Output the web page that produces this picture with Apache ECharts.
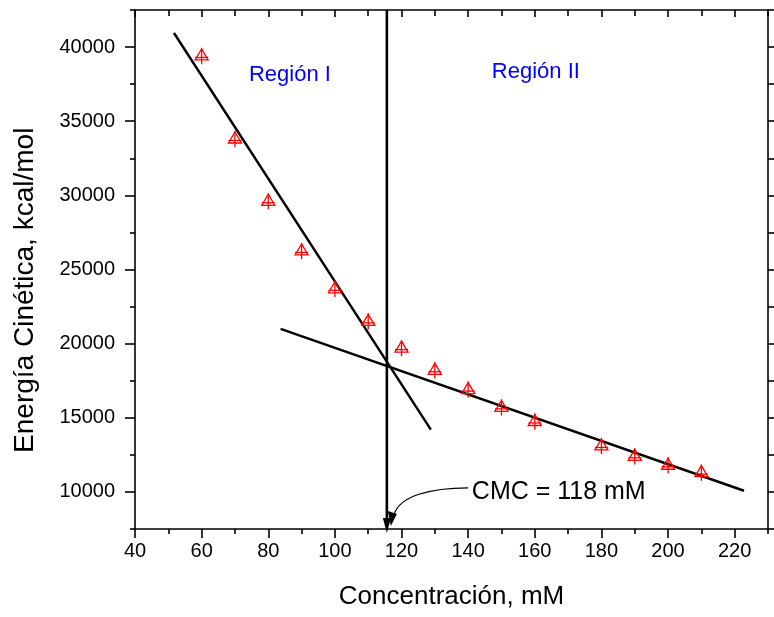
<!DOCTYPE html>
<html><head><meta charset="utf-8">
<script src="https://cdn.jsdelivr.net/npm/echarts@6/dist/echarts.min.js"></script>
<style>html,body{margin:0;padding:0;background:#fff}#c{width:774px;height:617px}</style>
</head><body><div id="c"></div>
<script>
// ---- data ----
const concentration = [60, 70, 80, 90, 100, 110, 120, 130, 140, 150, 160, 180, 190, 200, 210];
const energy = [39400, 33800, 29600, 26250, 23700, 21500, 19700, 18200, 16900, 15700, 14750, 13100, 12400, 11800, 11300];
const energyError = [550, 550, 550, 550, 550, 550, 550, 550, 550, 550, 550, 550, 550, 550, 550];
const fitRegion1 = [[51.7, 40950], [128.8, 14200]];
const fitRegion2 = [[83.7, 21000], [222.8, 10080]];
const cmcX = 115.6;
const cmcLine = [[115.6, 42500], [115.6, 7800]];
const xMajorTicks = [40, 60, 80, 100, 120, 140, 160, 180, 200, 220];
const xMinorTicks = [50, 70, 90, 110, 130, 150, 170, 190, 210, 230];
const yMajorTicks = [10000, 15000, 20000, 25000, 30000, 35000, 40000];
const yMinorTicks = [7500, 12500, 17500, 22500, 27500, 32500, 37500, 42500];
const yAllTicks = [7500, 10000, 12500, 15000, 17500, 20000, 22500, 25000, 27500, 30000, 32500, 35000, 37500, 40000, 42500];

const FONT = 'Liberation Sans, Arial, sans-serif';
const chart = echarts.init(document.getElementById('c'));
const AX = {lineStyle: {color: '#000', width: 1.6}};
const xBase = {type: 'value', min: 40, max: 230, splitLine: {show: false}};
const yBase = {type: 'value', min: 7500, max: 42500, splitLine: {show: false}};

const pts = concentration.map((c, i) => [c, energy[i], energyError[i]]);

chart.setOption({
  animation: false,
  backgroundColor: '#fff',
  grid: {left: 135, right: 6, top: 10, bottom: 88, containLabel: false},
  xAxis: [
    Object.assign({}, xBase, {position: 'bottom',
      axisLine: AX,
      axisTick: {customValues: xMajorTicks, length: 9, lineStyle: {color: '#000', width: 1.6}},
      axisLabel: {customValues: xMajorTicks, color: '#000', fontSize: 20, fontFamily: FONT, margin: 12},
      name: 'Concentración, mM', nameLocation: 'middle', nameGap: 55,
      nameTextStyle: {color: '#000', fontSize: 26, fontFamily: FONT}}),
    Object.assign({}, xBase, {position: 'bottom', axisLine: {show: false},
      axisTick: {customValues: xMinorTicks, length: 5, lineStyle: {color: '#000', width: 1.6}},
      axisLabel: {show: false}}),
    Object.assign({}, xBase, {position: 'top', axisLine: AX,
      axisTick: {inside: true, customValues: xMajorTicks, length: 7, lineStyle: {color: '#000', width: 1.6}},
      axisLabel: {show: false}}),
    Object.assign({}, xBase, {position: 'top', axisLine: {show: false},
      axisTick: {inside: true, customValues: xMinorTicks, length: 6, lineStyle: {color: '#000', width: 1.6}},
      axisLabel: {show: false}})
  ],
  yAxis: [
    Object.assign({}, yBase, {position: 'left', axisLine: AX,
      axisTick: {customValues: yMajorTicks, length: 10, lineStyle: {color: '#000', width: 1.6}},
      axisLabel: {customValues: yMajorTicks, color: '#000', fontSize: 20, fontFamily: FONT, margin: 20,
        formatter: function (v) { return String(v); }}}),
    Object.assign({}, yBase, {position: 'left', axisLine: {show: false},
      axisTick: {customValues: yMinorTicks, length: 5, lineStyle: {color: '#000', width: 1.6}},
      axisLabel: {show: false}}),
    Object.assign({}, yBase, {position: 'right', axisLine: AX,
      axisTick: {customValues: yAllTicks, length: 7, lineStyle: {color: '#000', width: 1.6}},
      axisLabel: {show: false}})
  ],
  series: [
    {type: 'line', data: fitRegion1, symbol: 'none', lineStyle: {color: '#000', width: 2.4}, silent: true},
    {type: 'line', data: fitRegion2, symbol: 'none', lineStyle: {color: '#000', width: 2.4}, silent: true},
    {type: 'line', data: cmcLine, symbol: 'none', clip: false, lineStyle: {color: '#000', width: 2.6}, silent: true},
    {type: 'custom', data: pts, z: 5,
      renderItem: function (params, api) {
        const c = api.coord([api.value(0), api.value(1)]);
        const top = api.coord([api.value(0), api.value(1) + api.value(2)]);
        const bot = api.coord([api.value(0), api.value(1) - api.value(2)]);
        const cx = c[0], cy = c[1];
        const st = {stroke: '#ff0000', fill: 'none', lineWidth: 1.3};
        return {type: 'group', children: [
          {type: 'polygon', shape: {points: [[cx, cy - 7], [cx - 6.5, cy + 4], [cx + 6.5, cy + 4]]}, style: st},
          {type: 'line', shape: {x1: cx - 6.5, y1: cy + 1.5, x2: cx + 6.5, y2: cy + 1.5}, style: st},
          {type: 'line', shape: {x1: cx, y1: top[1], x2: cx, y2: bot[1]}, style: st}
        ]};
      }}
  ]
});

// ---- annotations (anchors given in data coordinates) ----
function px(v) { return chart.convertToPixel({gridIndex: 0}, v); }
const s0 = px([140, 10280]), c1 = px([128.5, 10280]), c2 = px([119.5, 9700]), e0 = px([117.8, 8500]);
const tip = px([116.8, 7700]);
const vTip = px([cmcX, 7230]);
const t1 = px([74.2, 38113]), t2 = px([147.1, 38315]), tc = px([141.1, 10011]);
const yName = px([36, 23600]);
chart.setOption({
  graphic: [
    {type: 'polygon', shape: {points: [[vTip[0], vTip[1]], [vTip[0] - 4, vTip[1] - 15], [vTip[0] + 4, vTip[1] - 15]]},
      style: {fill: '#000'}, z: 10},
    {type: 'bezierCurve', shape: {x1: s0[0], y1: s0[1], cpx1: c1[0], cpy1: c1[1], cpx2: c2[0], cpy2: c2[1], x2: e0[0], y2: e0[1]},
      style: {stroke: '#000', lineWidth: 1.2, fill: 'none'}, z: 10},
    {type: 'polygon', shape: {points: [[tip[0], tip[1]], [tip[0] - 3, tip[1] - 15], [tip[0] + 6, tip[1] - 12]]},
      style: {fill: '#000'}, z: 10},
    {type: 'text', x: tc[0], y: tc[1], style: {text: 'CMC = 118 mM', font: '25px ' + FONT, fill: '#000', textAlign: 'left', textVerticalAlign: 'middle'}, z: 10},
    {type: 'text', x: t1[0], y: t1[1], style: {text: 'Región I', font: '22px ' + FONT, fill: '#0000ff', textAlign: 'left', textVerticalAlign: 'middle'}, z: 10},
    {type: 'text', x: t2[0], y: t2[1], style: {text: 'Región II', font: '22px ' + FONT, fill: '#0000ff', textAlign: 'left', textVerticalAlign: 'middle'}, z: 10},
    {type: 'text', x: 25, y: yName[1], rotation: Math.PI / 2,
      style: {text: 'Energía Cinética, kcal/mol', font: '28px ' + FONT, fill: '#000', textAlign: 'center', textVerticalAlign: 'middle'}, z: 10}
  ]
});
</script></body></html>
